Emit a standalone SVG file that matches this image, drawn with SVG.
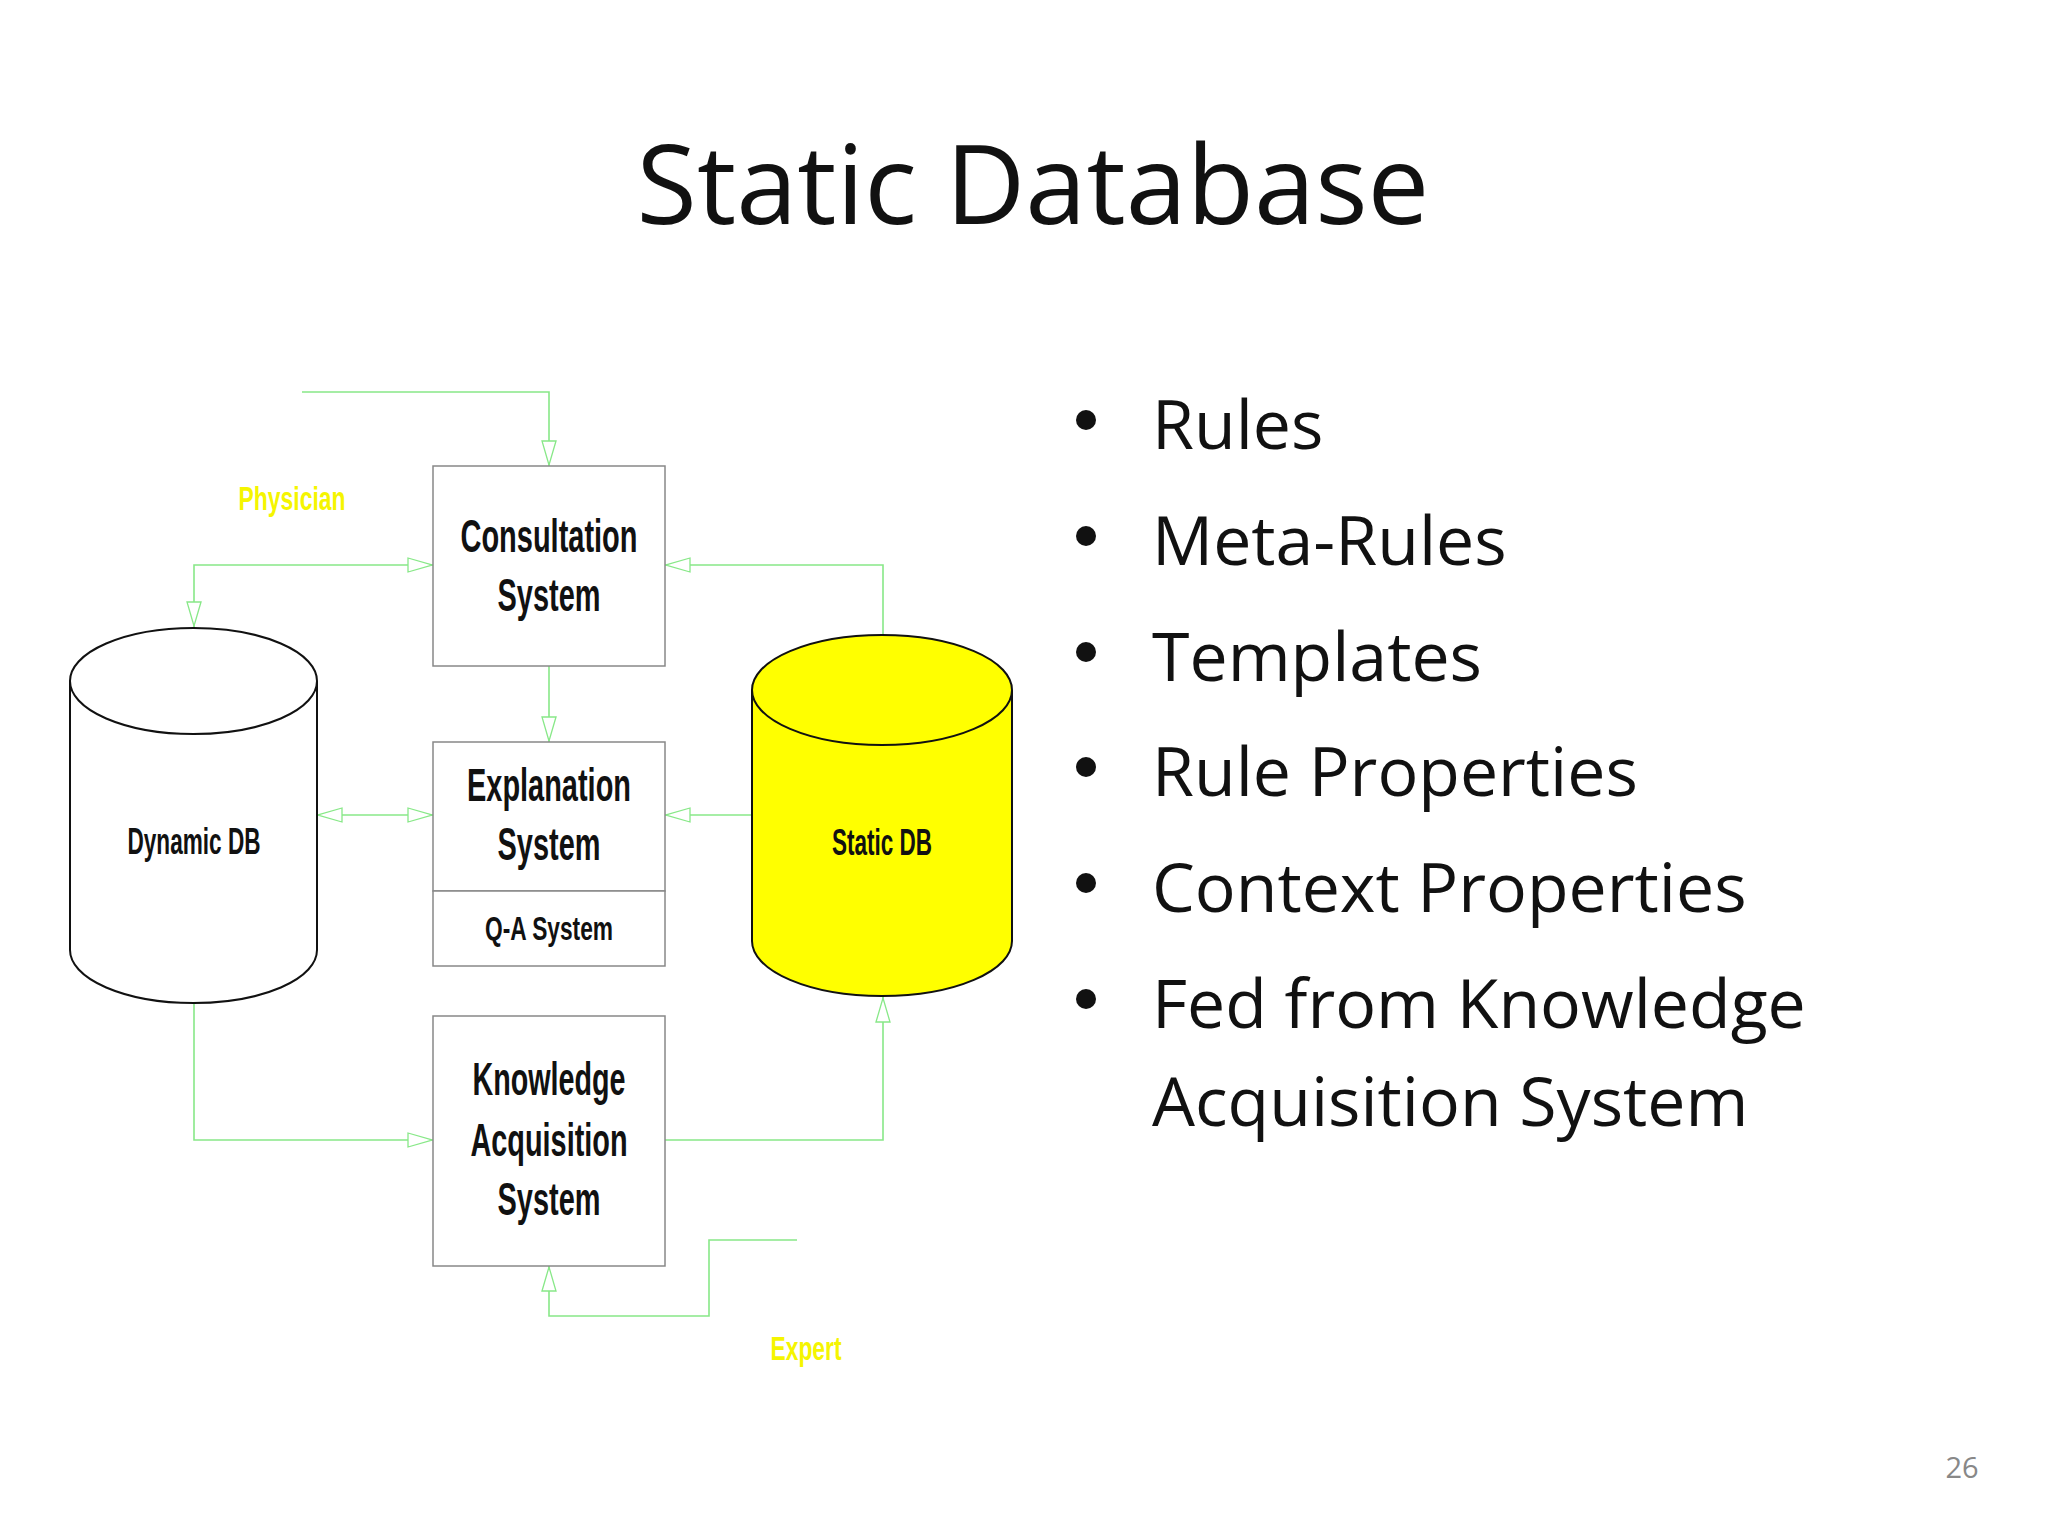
<svg xmlns="http://www.w3.org/2000/svg" width="2048" height="1536" viewBox="0 0 2048 1536">
<defs>
<marker id="ar" viewBox="0 0 26 16" refX="26" refY="8" markerWidth="26" markerHeight="16" markerUnits="userSpaceOnUse" orient="auto-start-reverse">
<path d="M1,1 L25,8 L1,15 Z" fill="#fff" stroke="#88e888" stroke-width="1.3"/>
</marker>
</defs>
<style>
.c{fill:none;stroke:#88e888;stroke-width:1.6}
.box{fill:#fff;stroke:#888;stroke-width:1.5}
.n{font-family:"Liberation Sans",Arial,sans-serif;font-weight:bold;text-anchor:middle;fill:#111}
.y{font-family:"Liberation Sans",Arial,sans-serif;font-weight:bold;text-anchor:middle;fill:#f5f500;font-size:34px}
.b{font-family:"Open Sans","Liberation Sans",sans-serif;font-size:68px;fill:#111}
</style>
<rect width="2048" height="1536" fill="#fff"/>
<text x="1033" y="224" text-anchor="middle" font-family="Open Sans, Liberation Sans, sans-serif" font-size="110" fill="#111">Static Database</text>
<g id="connectors">
<path class="c" d="M302,392 H549 V466" marker-end="url(#ar)"/>
<path class="c" d="M194,627 V565 H433" marker-start="url(#ar)" marker-end="url(#ar)"/>
<path class="c" d="M549,666 V742" marker-end="url(#ar)"/>
<path class="c" d="M317,815 H433" marker-start="url(#ar)" marker-end="url(#ar)"/>
<path class="c" d="M883,635 V565 H665" marker-end="url(#ar)"/>
<path class="c" d="M752,815 H665" marker-end="url(#ar)"/>
<path class="c" d="M194,1003 V1140 H433" marker-end="url(#ar)"/>
<path class="c" d="M665,1140 H883 V997" marker-end="url(#ar)"/>
<path class="c" d="M797,1240 H709 V1316 H549 V1266" marker-end="url(#ar)"/>
</g>
<g id="physician"><text class="y" x="292" y="510" textLength="107" lengthAdjust="spacingAndGlyphs">Physician</text></g>
<g id="expert"><text class="y" x="806" y="1360" textLength="71" lengthAdjust="spacingAndGlyphs">Expert</text></g>
<g id="consultation">
<rect class="box" x="433" y="466" width="232" height="200"/>
<text class="n" x="549" y="552" font-size="46" textLength="177" lengthAdjust="spacingAndGlyphs">Consultation</text>
<text class="n" x="549" y="611" font-size="46" textLength="103" lengthAdjust="spacingAndGlyphs">System</text>
</g>
<g id="explanation">
<rect class="box" x="433" y="742" width="232" height="149"/>
<rect class="box" x="433" y="891" width="232" height="75"/>
<text class="n" x="549" y="801" font-size="46" textLength="164" lengthAdjust="spacingAndGlyphs">Explanation</text>
<text class="n" x="549" y="860" font-size="46" textLength="103" lengthAdjust="spacingAndGlyphs">System</text>
<text class="n" x="549" y="940" font-size="34" textLength="128" lengthAdjust="spacingAndGlyphs">Q-A System</text>
</g>
<g id="knowledge">
<rect class="box" x="433" y="1016" width="232" height="250"/>
<text class="n" x="549" y="1095" font-size="46" textLength="153" lengthAdjust="spacingAndGlyphs">Knowledge</text>
<text class="n" x="549" y="1156" font-size="46" textLength="157" lengthAdjust="spacingAndGlyphs">Acquisition</text>
<text class="n" x="549" y="1215" font-size="46" textLength="103" lengthAdjust="spacingAndGlyphs">System</text>
</g>
<g id="dynamicdb">
<path d="M70,681 V950 A123.5,53 0 0 0 317,950 V681" fill="#fff" stroke="#111" stroke-width="2"/>
<ellipse cx="193.5" cy="681" rx="123.5" ry="53" fill="#fff" stroke="#111" stroke-width="2"/>
<text class="n" x="194" y="854" font-size="36" textLength="133" lengthAdjust="spacingAndGlyphs">Dynamic DB</text>
</g>
<g id="staticdb">
<path d="M752,690 V941 A130,55 0 0 0 1012,941 V690" fill="#ffff00" stroke="#111" stroke-width="2"/>
<ellipse cx="882" cy="690" rx="130" ry="55" fill="#ffff00" stroke="#111" stroke-width="2"/>
<text class="n" x="882" y="855" font-size="36" textLength="100" lengthAdjust="spacingAndGlyphs">Static DB</text>
</g>
<g id="bullets">
<g fill="#111"><circle cx="1086" cy="420" r="10"/><circle cx="1086" cy="536" r="10"/><circle cx="1086" cy="652" r="10"/><circle cx="1086" cy="767" r="10"/><circle cx="1086" cy="883" r="10"/><circle cx="1086" cy="999" r="10"/></g>
<text class="b" x="1152" y="449">Rules</text>
<text class="b" x="1152" y="565">Meta-Rules</text>
<text class="b" x="1152" y="681">Templates</text>
<text class="b" x="1152" y="796">Rule Properties</text>
<text class="b" x="1152" y="912">Context Properties</text>
<text class="b" x="1152" y="1028">Fed from Knowledge</text>
<text class="b" x="1152" y="1126">Acquisition System</text>
</g>
<text x="1962" y="1478" text-anchor="middle" font-family="Open Sans, Liberation Sans, sans-serif" font-size="29" fill="#888">26</text>
</svg>
